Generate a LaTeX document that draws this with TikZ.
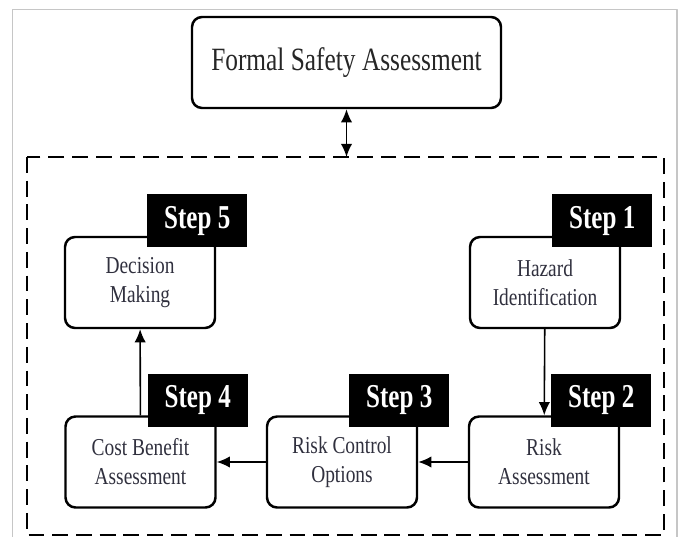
\documentclass[tikz,border=0pt]{standalone}
\usepackage{fontspec}
\setmainfont{Liberation Serif}
\newfontfamily\titlefont{Liberation Serif}[FakeStretch=0.78]
\newfontfamily\stepfont{Liberation Serif}[FakeStretch=0.75]
\newfontfamily\bodyfont{Liberation Serif}[FakeStretch=0.8]
\usetikzlibrary{arrows.meta}
\definecolor{txtgray}{RGB}{48,48,62}
\definecolor{framegray}{RGB}{198,198,198}
\begin{document}
\begin{tikzpicture}[line join=round, >={Latex[length=7.5pt,width=6.5pt]},
    box/.style={draw, line width=1.4pt, rounded corners=0.2cm, minimum width=3cm, minimum height=1.82cm, align=center, text=txtgray, font=\bodyfont\fontsize{13.8}{16.5}\selectfont},
    stepbox/.style={fill=black, text=white, minimum width=2cm, minimum height=1.06cm, inner sep=0pt, font=\stepfont\bfseries\fontsize{19}{20}\selectfont, xshift=-0.38cm, yshift=0.3cm},
    link/.style={->, line width=0.9pt}]
    \useasboundingbox (0,0) rectangle (13.62,-10.74);
    % outer frame of the figure
    \draw[framegray, line width=0.8pt] (0.25,-10.9) -- (0.25,-0.19) -- (13.54,-0.19) -- (13.54,-10.9);
    \draw[line width=1.4pt, dash pattern=on 9pt off 4.5pt] (0.54,-3.14) rectangle (13.28,-10.70);
    \coordinate (frametop) at (6.93,-3.14);
    \node[box, minimum width=6.18cm, text=black!85, font=\titlefont\fontsize{18.5}{20}\selectfont] (fsa) at (6.93,-1.25) {Formal Safety Assessment};
    % the five steps
    \node[box] (decision) at (2.8,-5.65) {Decision\\Making};
    \node[box] (hazard) at (10.9,-5.65) {Hazard\\Identification};
    \node[box] (costben) at (2.81,-9.24) {Cost Benefit\\Assessment};
    \node[box] (riskctrl) at (6.84,-9.24) {Risk Control\\Options};
    \node[box] (riskass) at (10.88,-9.24) {Risk\\Assessment};
    \node[stepbox] (s1) at (hazard.north east) {Step 1};
    \node[stepbox] (s2) at (riskass.north east) {Step 2};
    \node[stepbox] (s3) at (riskctrl.north east) {Step 3};
    \node[stepbox] (s4) at (costben.north east) {Step 4};
    \node[stepbox] (s5) at (decision.north east) {Step 5};
    % flow
    \draw[<->, line width=0.9pt] (fsa) -- (frametop);
    \draw[link] (hazard) -- (riskass);
    \draw[link] (riskass) -- (riskctrl);
    \draw[link] (riskctrl) -- (costben);
    \draw[link] (costben) -- (decision);
\end{tikzpicture}
\end{document}
